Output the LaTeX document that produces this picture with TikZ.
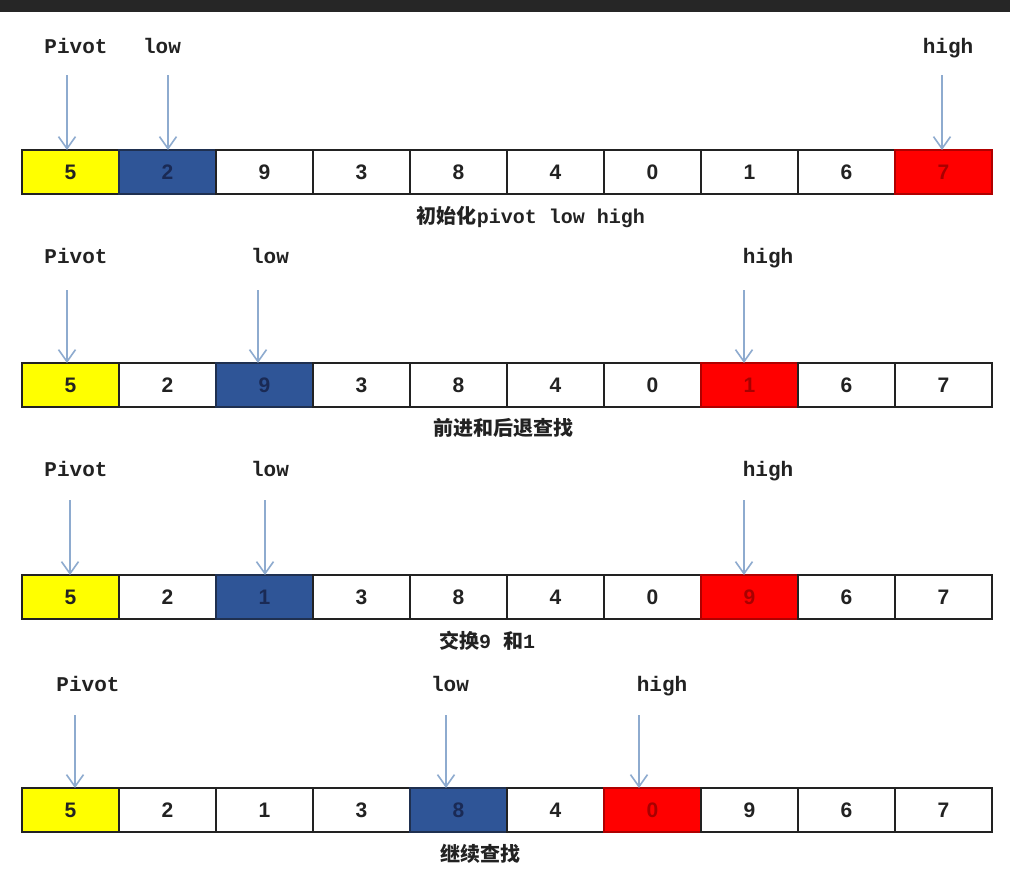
\documentclass[tikz,border=0pt]{standalone}
\usepackage{fontspec}
\usetikzlibrary{arrows.meta}
\newfontfamily\cjk{Noto Sans CJK SC}
\newfontfamily\lbl{Liberation Mono}
\newfontfamily\num{Liberation Sans}
\definecolor{pvfill}{HTML}{FFFF00}
\definecolor{lofill}{HTML}{2F5597}
\definecolor{lotext}{HTML}{1A2A55}
\definecolor{lodraw}{HTML}{1F3050}
\definecolor{hifill}{HTML}{FF0000}
\definecolor{hitext}{HTML}{A80000}
\definecolor{hidraw}{HTML}{B00000}
\definecolor{ptrcol}{HTML}{8EABCF}
\definecolor{barcol}{HTML}{262626}
\definecolor{ink}{HTML}{222222}
\tikzset{
  cell/.style={line width=1.5pt, minimum width=97pt, minimum height=44pt,
    inner sep=0pt, outer sep=0pt, anchor=north west,
    font=\num\bfseries\fontsize{21}{21}\selectfont},
  ptrlabel/.style={font=\lbl\bfseries\fontsize{21}{21}\selectfont, text=ink, inner sep=0pt, anchor=base},
  caption/.style={font=\bfseries\fontsize{20}{20}\selectfont, text=ink, inner sep=0pt, anchor=base},
  ptr/.style={draw=ptrcol, line width=1.6pt, -{Straight Barb[length=12pt,width=17pt,line width=1.6pt]}}
}
\begin{document}
\begin{tikzpicture}[x=1pt,y=-1pt]
\useasboundingbox (0,0) rectangle (1010,873);
\fill[white] (0,0) rectangle (1010,873);
\fill[barcol] (0,0) rectangle (1010,12);
% arrays
\foreach \r/\ty/\vals/\lo/\hi in {1/150/{5,2,9,3,8,4,0,1,6,7}/1/9,
                                 2/363/{5,2,9,3,8,4,0,1,6,7}/2/7,
                                 3/575/{5,2,1,3,8,4,0,9,6,7}/2/7,
                                 4/788/{5,2,1,3,8,4,0,9,6,7}/4/6}{
  \foreach \v [count=\i from 0] in \vals {
    \ifnum\i=0 \def\fc{pvfill}\def\tc{ink}\def\dc{ink}\else
    \ifnum\i=\lo \def\fc{lofill}\def\tc{lotext}\def\dc{lodraw}\else
    \ifnum\i=\hi \def\fc{hifill}\def\tc{hitext}\def\dc{hidraw}\else
    \def\fc{white}\def\tc{ink}\def\dc{ink}\fi\fi\fi
    \node[cell, fill=\fc, text=\tc, draw=\dc] (c\r-\i) at ({22+97*\i},\ty) {\v};
  }
}
% row 1
\node[ptrlabel] (p1) at (76,53) {Pivot};
\node[ptrlabel] (l1) at (162,53) {low};
\node[ptrlabel] (h1) at (948,53) {high};
\coordinate (p1s) at (67,75);
\coordinate (l1s) at (168,75);
\coordinate (h1s) at (942,75);
\draw[ptr] (p1s) -- (p1s |- c1-0.north);
\draw[ptr] (l1s) -- (l1s |- c1-1.north);
\draw[ptr] (h1s) -- (h1s |- c1-9.north);
\node[caption] (t1) at (531,223) {{\cjk 初始化}{\lbl pivot low high}};
% row 2
\node[ptrlabel] (p2) at (76,263) {Pivot};
\node[ptrlabel] (l2) at (270,263) {low};
\node[ptrlabel] (h2) at (768,263) {high};
\coordinate (p2s) at (67,290);
\coordinate (l2s) at (258,290);
\coordinate (h2s) at (744,290);
\draw[ptr] (p2s) -- (p2s |- c2-0.north);
\draw[ptr] (l2s) -- (l2s |- c2-2.north);
\draw[ptr] (h2s) -- (h2s |- c2-7.north);
\node[caption] (t2) at (503,435) {\cjk 前进和后退查找};
% row 3
\node[ptrlabel] (p3) at (76,476) {Pivot};
\node[ptrlabel] (l3) at (270,476) {low};
\node[ptrlabel] (h3) at (768,476) {high};
\coordinate (p3s) at (70,500);
\coordinate (l3s) at (265,500);
\coordinate (h3s) at (744,500);
\draw[ptr] (p3s) -- (p3s |- c3-0.north);
\draw[ptr] (l3s) -- (l3s |- c3-2.north);
\draw[ptr] (h3s) -- (h3s |- c3-7.north);
\node[caption] (t3) at (487,648) {{\cjk 交换}{\lbl 9 }{\cjk 和}{\lbl 1}};
% row 4
\node[ptrlabel] (p4) at (88,691) {Pivot};
\node[ptrlabel] (l4) at (450,691) {low};
\node[ptrlabel] (h4) at (662,691) {high};
\coordinate (p4s) at (75,715);
\coordinate (l4s) at (446,715);
\coordinate (h4s) at (639,715);
\draw[ptr] (p4s) -- (p4s |- c4-0.north);
\draw[ptr] (l4s) -- (l4s |- c4-4.north);
\draw[ptr] (h4s) -- (h4s |- c4-6.north);
\node[caption] (t4) at (480,861) {\cjk 继续查找};
\end{tikzpicture}
\end{document}
